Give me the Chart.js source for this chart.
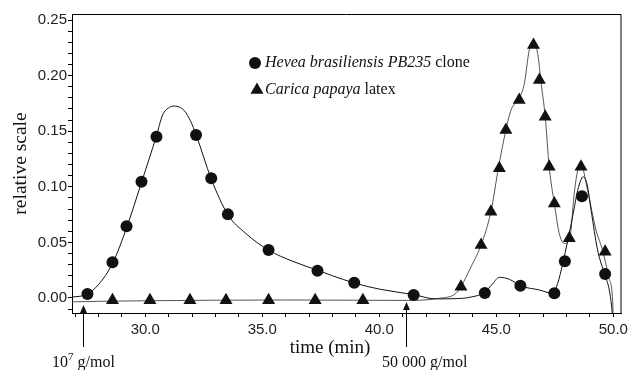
<!DOCTYPE html>
<html>
<head>
<meta charset="utf-8">
<script src="https://cdn.jsdelivr.net/npm/chart.js@4/dist/chart.umd.min.js"></script>
<style>
  html, body { margin: 0; padding: 0; background: #fff; }
  #wrap { width: 629px; height: 370px; }
</style>
</head>
<body>
<div id="wrap"><canvas id="chromatogram"></canvas></div>
<script>
// markers (sampled points)
const heveaTimes = [27.53, 28.60, 29.20, 29.84, 30.48, 32.17, 32.82, 33.53, 35.27, 37.36, 38.93, 41.47, 44.51, 46.03, 47.48, 47.93, 48.66, 49.65];
const heveaValues = [0.0036, 0.0321, 0.0645, 0.1046, 0.1450, 0.1466, 0.1076, 0.0752, 0.0432, 0.0246, 0.0138, 0.0027, 0.0045, 0.0110, 0.0042, 0.0330, 0.0915, 0.0216];
const papayaTimes = [28.60, 30.20, 31.91, 33.45, 35.27, 37.26, 39.30, 43.49, 44.35, 44.77, 45.13, 45.41, 45.98, 46.59, 46.84, 47.09, 47.26, 47.48, 48.12, 48.62, 49.65];
const papayaValues = [-0.002, -0.002, -0.002, -0.002, -0.002, -0.002, -0.002, 0.0102, 0.0476, 0.0776, 0.1166, 0.151, 0.178, 0.2275, 0.196, 0.163, 0.118, 0.085, 0.0537, 0.118, 0.0416];

// detector traces
const heveaCurveTimes = [26.87, 27.2, 27.53, 28.0, 28.6, 29.2, 29.84, 30.48, 30.74, 31.03, 31.24, 31.67, 31.95, 32.17, 32.82, 33.53, 34.3, 35.27, 36.3, 37.36, 38.0, 38.93, 40.0, 41.47, 42.4, 43.4, 44.0, 44.49, 44.85, 45.13, 45.56, 46.06, 46.84, 47.41, 47.62, 47.84, 48.26, 48.48, 48.72, 48.88, 49.05, 49.33, 49.62, 49.83, 49.93, 49.98];
const heveaCurveValues = [0.001, 0.0015, 0.0036, 0.012, 0.031, 0.063, 0.104, 0.146, 0.1645, 0.1714, 0.1726, 0.1684, 0.1585, 0.147, 0.107, 0.075, 0.058, 0.043, 0.033, 0.025, 0.020, 0.0135, 0.008, 0.003, -0.0008, -0.0005, 0.0012, 0.0048, 0.013, 0.0186, 0.0168, 0.0108, 0.0072, 0.0042, 0.013, 0.031, 0.073, 0.097, 0.109, 0.102, 0.079, 0.043, 0.022, 0.007, -0.008, -0.02];
const papayaCurveTimes = [26.87, 28.0, 30.0, 33.0, 36.0, 39.0, 41.0, 42.56, 43.28, 43.49, 43.92, 44.35, 44.77, 45.10, 45.41, 45.63, 45.98, 46.20, 46.41, 46.62, 46.79, 46.90, 47.09, 47.26, 47.48, 47.69, 47.91, 48.15, 48.33, 48.48, 48.62, 48.90, 49.26, 49.54, 49.80, 49.97, 50.0];
const papayaCurveValues = [-0.0035, -0.003, -0.0025, -0.002, -0.0018, -0.002, -0.0022, -0.0003, 0.0042, 0.0102, 0.028, 0.0476, 0.0776, 0.118, 0.151, 0.169, 0.1795, 0.193, 0.223, 0.2295, 0.217, 0.196, 0.163, 0.118, 0.085, 0.058, 0.049, 0.055, 0.094, 0.115, 0.1196, 0.097, 0.061, 0.043, 0.019, -0.002, -0.02];

// molar mass calibration marks
const massTimes = [27.32, 41.14];

const toPoints = (xs, ys) => xs.map((v, i) => ({ x: v, y: ys[i] }));

function drawRich(ctx, parts, x, y) {
    parts.forEach(p => {
        ctx.font = p.font;
        ctx.fillText(p.text, x, y + (p.dy || 0));
        x += ctx.measureText(p.text).width;
    });
}

function drawTriangle(ctx, x, y, r) {
    ctx.beginPath();
    ctx.moveTo(x, y - r);
    ctx.lineTo(x + 0.866 * r, y + 0.5 * r);
    ctx.lineTo(x - 0.866 * r, y + 0.5 * r);
    ctx.closePath();
    ctx.fill();
}

const serif = '"Liberation Serif", "Times New Roman", serif';

const decor = {
    id: 'decor',
    afterDraw(chart) {
        const { ctx, chartArea: area, scales } = chart;
        ctx.save();

        // top and right border of the frame
        ctx.strokeStyle = '#000';
        ctx.lineWidth = 1;
        ctx.beginPath();
        ctx.moveTo(area.left, area.top + 0.5);
        ctx.lineTo(area.right - 0.5, area.top + 0.5);
        ctx.lineTo(area.right - 0.5, area.bottom);
        ctx.stroke();

        ctx.fillStyle = '#111';
        ctx.textAlign = 'left';
        ctx.textBaseline = 'alphabetic';

        // legend
        ctx.beginPath();
        ctx.arc(255, 63, 6, 0, Math.PI * 2);
        ctx.fill();
        drawTriangle(ctx, 257, 90, 7.5);
        drawRich(ctx, [
            { text: 'Hevea brasiliensis PB235', font: 'italic 16px ' + serif },
            { text: ' clone', font: '16px ' + serif }
        ], 265, 67);
        drawRich(ctx, [
            { text: 'Carica papaya', font: 'italic 16px ' + serif },
            { text: ' latex', font: '16px ' + serif }
        ], 265, 94);

        // x axis title
        ctx.textAlign = 'center';
        ctx.font = '19px ' + serif;
        ctx.fillText('time (min)', 330, 353);

        // calibration arrows
        const tips = [305, 302];
        massTimes.forEach((t, i) => {
            const px = Math.round(scales.x.getPixelForValue(t)) + 0.5;
            ctx.beginPath();
            ctx.moveTo(px, 347);
            ctx.lineTo(px, tips[i] + 6);
            ctx.stroke();
            ctx.beginPath();
            ctx.moveTo(px, tips[i]);
            ctx.lineTo(px + 3.5, tips[i] + 8);
            ctx.lineTo(px - 3.5, tips[i] + 8);
            ctx.closePath();
            ctx.fill();
        });
        ctx.textAlign = 'left';
        drawRich(ctx, [
            { text: '10', font: '16px ' + serif },
            { text: '7', font: '11px ' + serif, dy: -7 },
            { text: ' g/mol', font: '16px ' + serif }
        ], 52, 367);
        drawRich(ctx, [{ text: '50 000 g/mol', font: '16px ' + serif }], 382, 367);

        ctx.restore();
    }
};

document.addEventListener('DOMContentLoaded', function() {
    const ctx = document.getElementById('chromatogram');

    new Chart(ctx, {
        type: 'scatter',
        data: {
            datasets: [{
                label: 'Hevea brasiliensis PB235 clone',
                data: toPoints(heveaTimes, heveaValues),
                pointStyle: 'circle',
                pointRadius: 6,
                backgroundColor: '#111',
                borderWidth: 0,
                order: 0
            }, {
                label: 'Carica papaya latex',
                data: toPoints(papayaTimes, papayaValues),
                pointStyle: 'triangle',
                pointRadius: 7.5,
                backgroundColor: '#111',
                borderWidth: 0,
                order: 0
            }, {
                label: 'Hevea trace',
                data: toPoints(heveaCurveTimes, heveaCurveValues),
                showLine: true,
                pointRadius: 0,
                borderColor: '#111',
                borderWidth: 1,
                cubicInterpolationMode: 'monotone',
                order: 1
            }, {
                label: 'Papaya trace',
                data: toPoints(papayaCurveTimes, papayaCurveValues),
                showLine: true,
                pointRadius: 0,
                borderColor: '#555',
                borderWidth: 1,
                cubicInterpolationMode: 'monotone',
                order: 1
            }]
        },
        options: {
            responsive: true,
            maintainAspectRatio: false,
            animation: false,
            layout: { padding: { top: 14, right: 7, left: 0, bottom: 0 } },
            scales: {
                x: {
                    type: 'linear',
                    min: 26.87,
                    max: 50.35,
                    afterFit: s => {
                        s.height = 57;
                        s.paddingLeft = 0;
                        s.paddingRight = 0;
                    },
                    border: { display: true, color: '#000', width: 1 },
                    grid: { drawOnChartArea: false, drawTicks: true, tickLength: 4, color: '#000' },
                    ticks: {
                        stepSize: 1,
                        includeBounds: false,
                        autoSkip: false,
                        maxRotation: 0,
                        padding: 4,
                        color: '#222',
                        font: { family: '"Liberation Sans", Arial, sans-serif', size: 15 },
                        callback: v => Math.abs(v % 5) < 1e-6 ? v.toFixed(1) : ''
                    }
                },
                y: {
                    min: -0.0135,
                    max: 0.2554,
                    afterFit: s => {
                        s.width = 72;
                        s.paddingTop = 0;
                        s.paddingBottom = 0;
                    },
                    border: { display: true, color: '#000', width: 1 },
                    grid: { drawOnChartArea: false, drawTicks: true, tickLength: 4, color: '#000' },
                    ticks: {
                        stepSize: 0.01,
                        includeBounds: false,
                        autoSkip: false,
                        padding: 1,
                        color: '#222',
                        font: { family: '"Liberation Sans", Arial, sans-serif', size: 15 },
                        callback: v => Math.round(v * 100) % 5 === 0 ? v.toFixed(2) : ''
                    },
                    title: {
                        display: true,
                        text: 'relative scale',
                        color: '#111',
                        padding: { top: 9, bottom: 0 },
                        font: { family: '"Liberation Serif", "Times New Roman", serif', size: 19.5 }
                    }
                }
            },
            plugins: {
                legend: { display: false },
                tooltip: { enabled: false }
            }
        },
        plugins: [decor]
    });
});
</script>
</body>
</html>
